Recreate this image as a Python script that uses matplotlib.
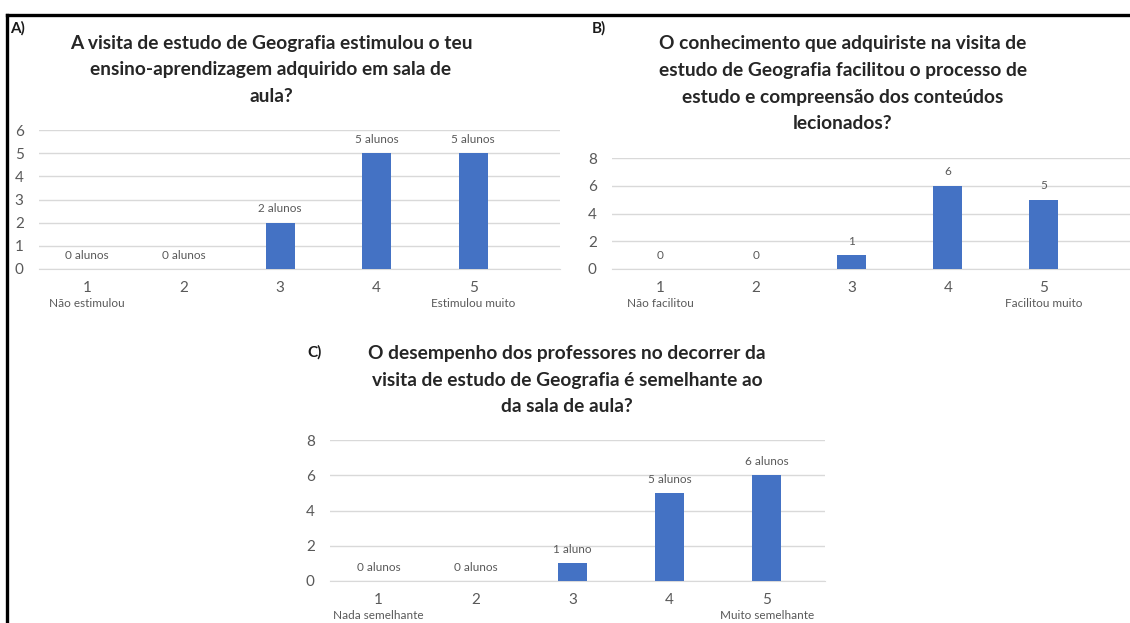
import matplotlib
matplotlib.use("Agg")
import matplotlib.pyplot as plt
from matplotlib.lines import Line2D

plt.rcParams["font.family"] = ["Lato", "DejaVu Sans"]

categories = ["1", "2", "3", "4", "5"]

a_values = [0, 0, 2, 5, 5]
a_labels = ["0 alunos", "0 alunos", "2 alunos", "5 alunos", "5 alunos"]
a_ends = ["Não estimulou", "Estimulou muito"]
a_title = ["A visita de estudo de Geografia estimulou o teu",
           "ensino-aprendizagem adquirido em sala de",
           "aula?"]

b_values = [0, 0, 1, 6, 5]
b_labels = ["0", "0", "1", "6", "5"]
b_ends = ["Não facilitou", "Facilitou muito"]
b_title = ["O conhecimento que adquiriste na visita de",
           "estudo de Geografia facilitou o processo de",
           "estudo e compreensão dos conteúdos",
           "lecionados?"]

c_values = [0, 0, 1, 5, 6]
c_labels = ["0 alunos", "0 alunos", "1 aluno", "5 alunos", "6 alunos"]
c_ends = ["Nada semelhante", "Muito semelhante"]
c_title = ["O desempenho dos professores no decorrer da",
           "visita de estudo de Geografia é semelhante ao",
           "da sala de aula?"]

BLUE = "#4472C4"
GRID = "#d9d9d9"
TXT = "#595959"
W, H = 1130, 623

fig = plt.figure(figsize=(W / 100, H / 100), dpi=100)


def px(x, y):
    return x / W, 1 - y / H


def panel(rect, values, labels, ends, ymax, ystep, xright):
    ax = fig.add_axes(rect)
    x = range(len(categories))
    ax.bar(x, values, width=0.3, color=BLUE, zorder=3)
    ax.set_xlim(-0.5, xright)
    ax.set_ylim(0, ymax)
    ax.set_yticks(range(0, ymax + 1, ystep))
    ax.grid(axis="y", color=GRID, linewidth=1, zorder=0)
    for s in ax.spines.values():
        s.set_visible(False)
    ax.spines["bottom"].set_visible(True)
    ax.spines["bottom"].set_color(GRID)
    ax.tick_params(length=0, colors=TXT, labelsize=11)
    ax.tick_params(axis="y", pad=11)
    ax.tick_params(axis="x", pad=9)
    ax.set_xticks(list(x))
    ax.set_xticklabels(categories)
    for i, (v, lab) in enumerate(zip(values, labels)):
        ax.annotate(lab, (i, v), xytext=(0, 6), textcoords="offset points",
                    ha="center", va="bottom", fontsize=8.5, color=TXT)
    for i, lab in zip([0, len(categories) - 1], ends):
        ax.annotate(lab, (i, 0), xytext=(0, -21), textcoords="offset points",
                    ha="center", va="top", fontsize=8.5, color=TXT,
                    annotation_clip=False)
    return ax


panel([39 / W, 1 - 269 / H, 521 / W, 139 / H], a_values, a_labels, a_ends, 6, 1, 4.9)
panel([612 / W, 1 - 269 / H, 518 / W, 111 / H], b_values, b_labels, b_ends, 8, 2, 4.9)
panel([330 / W, 1 - 581 / H, 495 / W, 141 / H], c_values, c_labels, c_ends, 8, 2, 4.6)


def title(lines, cx, y0, step):
    for k, line in enumerate(lines):
        fig.text(*px(cx, y0 + k * step), line, ha="center", va="center",
                 fontsize=13.8, fontweight="bold", color="#262626")


title(a_title, 271, 43, 27)
title(b_title, 843, 44, 26.5)
title(c_title, 567, 354, 26.5)

for lab, (lx, ly) in [("A)", (10, 28)), ("B)", (592, 28)), ("C)", (307, 352))]:
    fig.text(*px(lx, ly), lab, ha="left", va="center", fontsize=11,
             fontweight="bold", color="#1a1a1a")

# frame around the figure (only top and left edges visible)
fig.add_artist(Line2D([7 / W, 1], [1 - 15 / H, 1 - 15 / H], color="black", linewidth=2.4))
fig.add_artist(Line2D([7 / W, 7 / W], [0, 1 - 15 / H], color="black", linewidth=2.4))

fig.savefig("out.png", dpi=100, facecolor="white")
